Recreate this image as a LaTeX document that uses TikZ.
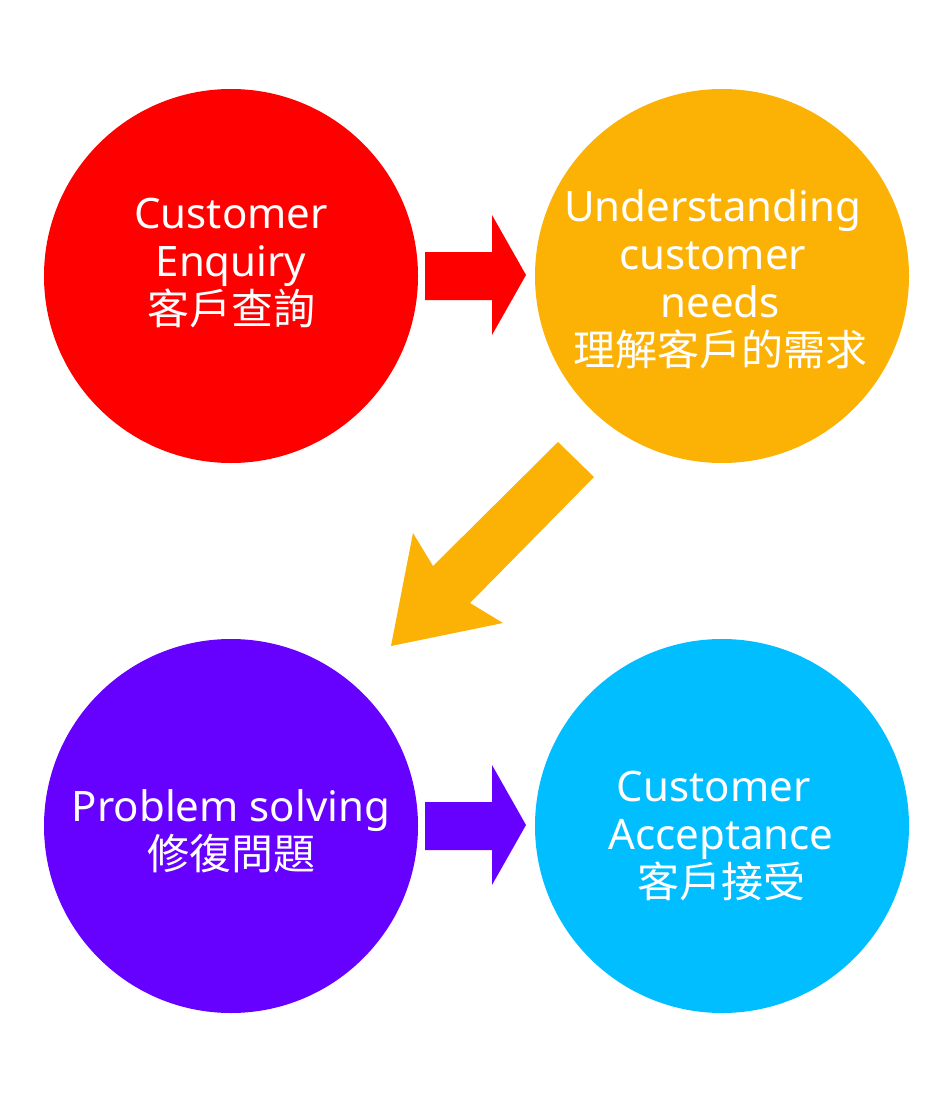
\documentclass[tikz,border=0pt]{standalone}
\usepackage{fontspec}
\setmainfont{Noto Sans}
\newfontfamily\cjk{Noto Sans CJK TC}
\definecolor{cred}{HTML}{FE0000}
\definecolor{corange}{HTML}{FBB205}
\definecolor{cpurple}{HTML}{6600FF}
\definecolor{ccyan}{HTML}{00BEFF}
\tikzset{
  disc/.style={circle, minimum size=374pt, inner sep=0pt, fill=#1},
  txt/.style={text=white, align=center, inner sep=0pt, font=\fontsize{42}{48}\selectfont},
}
\newcommand{\trail}{\hbox to 0.35em{}}
\begin{document}
\begin{tikzpicture}[x=1pt,y=-1pt]
\useasboundingbox (0,0) rectangle (952,1102);
\node[disc=cred] (c1) at (231,276) {};
\node[disc=corange] (c2) at (722,276) {};
\node[disc=cpurple] (c3) at (231,826) {};
\node[disc=ccyan] (c4) at (722,826) {};
\node[txt] (t1) at (231,263) {Customer\\Enquiry\\{\cjk 客戶查詢}};
\node[txt] (t2) at (720,279) {Understanding\trail\\customer\trail\\needs\\{\cjk 理解客戶的需求}};
\node[txt] (t3) at (231,831) {Problem solving\\{\cjk 修復問題}};
\node[txt] (t4) at (721,836) {Customer\trail\\Acceptance\\{\cjk 客戶接受}};
% arrows
\fill[cred] (425,252) -- (492,252) -- (492,215) -- (526,275) -- (492,335) -- (492,300) -- (425,300) -- cycle;
\fill[corange] (558,442) -- (433,566) -- (413,533) -- (391,646) -- (503,623) -- (470,603) -- (594,477) -- cycle;
\fill[cpurple] (425,802) -- (492,802) -- (492,765) -- (526,825) -- (492,885) -- (492,850) -- (425,850) -- cycle;
\end{tikzpicture}
\end{document}
